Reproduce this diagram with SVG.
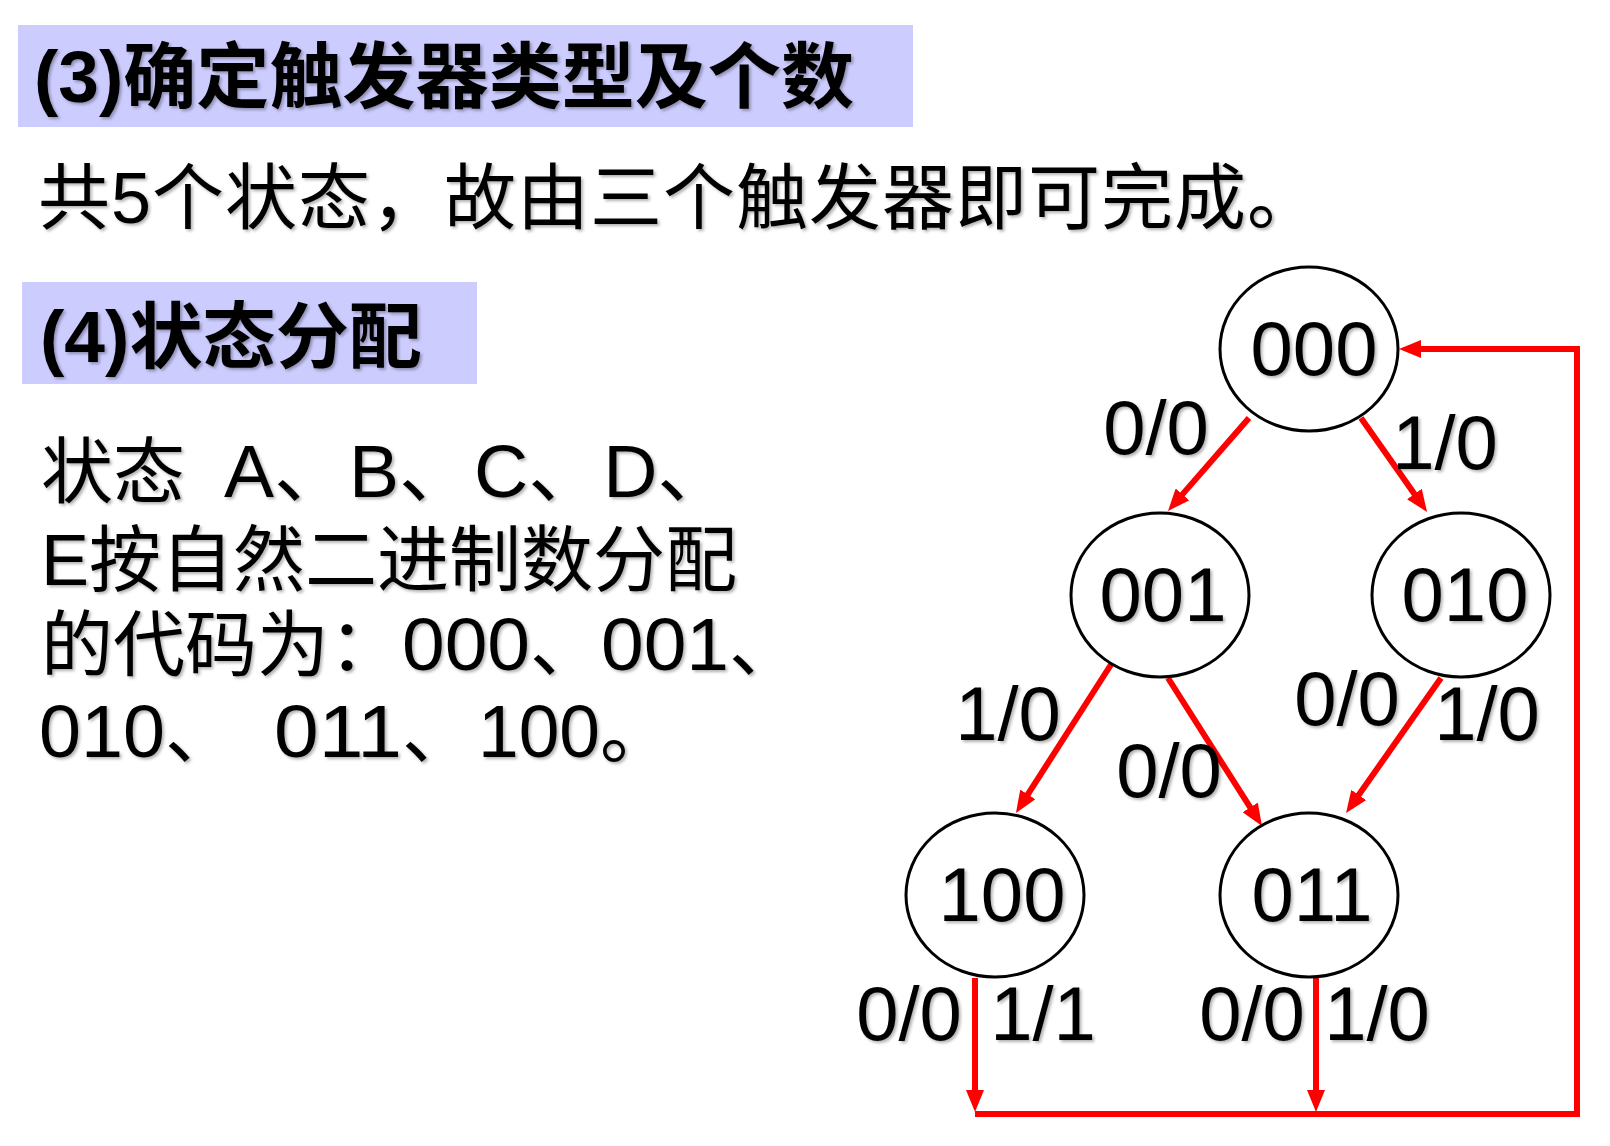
<svg xmlns="http://www.w3.org/2000/svg" width="1610" height="1146" viewBox="0 0 1610 1146">
<style>
.t{font-family:"Liberation Sans","Noto Sans CJK SC",sans-serif;fill:#000;filter:url(#sh)}
.b{font-weight:bold}
.lab{font-size:76px;text-anchor:middle}
.hdr{fill:#CCCCFF}
.node ellipse{fill:#fff;stroke:#000;stroke-width:3}
.edge{fill:none;stroke:#FF0000;stroke-width:6}
</style>
<defs>
<filter id="sh" x="-10%" y="-10%" width="130%" height="140%">
<feDropShadow dx="2" dy="2" stdDeviation="1.5" flood-color="#000" flood-opacity="0.3"/>
</filter>
<marker id="ah" viewBox="0 0 22 18" refX="8" refY="9" markerWidth="22" markerHeight="18" markerUnits="userSpaceOnUse" orient="auto">
<path d="M0,0 L22,9 L0,18 z" fill="#FF0000"/>
</marker>
</defs>

<g id="heading3">
<rect class="hdr" x="18" y="25" width="895" height="102"/>
<text class="t b" x="34" y="102" font-size="72" textLength="820" lengthAdjust="spacingAndGlyphs">(3)确定触发器类型及个数</text>
</g>
<g id="line2">
<text class="t" x="38" y="223" font-size="72" textLength="1281" lengthAdjust="spacing">共5个状态，故由三个触发器即可完成。</text>
</g>
<g id="heading4">
<rect class="hdr" x="22" y="282" width="455" height="102"/>
<text class="t b" x="40" y="362" font-size="72" textLength="382" lengthAdjust="spacingAndGlyphs">(4)状态分配</text>
</g>
<g id="paragraph">
<text class="t" font-size="72">
<tspan x="41" y="497">状态</tspan><tspan x="224" y="497" font-size="75">A、B、C、D、</tspan>
<tspan x="41" y="585">E按自然二进制数分配</tspan>
<tspan x="41" y="670">的代码为：</tspan><tspan x="402" y="670" font-size="74" textLength="128" lengthAdjust="spacingAndGlyphs">000</tspan><tspan x="530" y="670">、</tspan><tspan x="601" y="670" font-size="74" textLength="128" lengthAdjust="spacingAndGlyphs">001</tspan><tspan x="729" y="670">、</tspan>
<tspan x="39" y="757" font-size="74" textLength="126" lengthAdjust="spacingAndGlyphs">010</tspan><tspan x="165" y="757">、</tspan><tspan x="274" y="757" font-size="74" textLength="128" lengthAdjust="spacingAndGlyphs">011</tspan><tspan x="402" y="757">、</tspan><tspan x="478" y="757" font-size="74" textLength="122" lengthAdjust="spacingAndGlyphs">100</tspan><tspan x="600" y="757">。</tspan>
</text>
</g>

<g id="connectors">
<line class="edge" x1="1249" y1="418" x2="1177.2" y2="500.4" marker-end="url(#ah)"/>
<line class="edge" x1="1361" y1="418" x2="1419" y2="500.5" marker-end="url(#ah)"/>
<line class="edge" x1="1112" y1="663" x2="1023.5" y2="801.2" marker-end="url(#ah)"/>
<line class="edge" x1="1168" y1="678" x2="1254.5" y2="814.2" marker-end="url(#ah)"/>
<line class="edge" x1="1441" y1="678" x2="1354.1" y2="801.5" marker-end="url(#ah)"/>
<line class="edge" x1="975" y1="978" x2="975" y2="1098" marker-end="url(#ah)"/>
<line class="edge" x1="1316" y1="978" x2="1316" y2="1098" marker-end="url(#ah)"/>
<polyline class="edge" points="975,1114 1577,1114 1577,349 1413,349" marker-end="url(#ah)"/>
<text class="t lab" x="1156" y="454">0/0</text>
<text class="t lab" x="1445" y="469">1/0</text>
<text class="t lab" x="1008" y="740">1/0</text>
<text class="t lab" x="1169" y="797">0/0</text>
<text class="t lab" x="1347" y="725">0/0</text>
<text class="t lab" x="1487" y="740">1/0</text>
<text class="t lab" x="909" y="1040">0/0</text>
<text class="t lab" x="1043" y="1040">1/1</text>
<text class="t lab" x="1252" y="1040">0/0</text>
<text class="t lab" x="1377" y="1040">1/0</text>
</g>

<g id="n000" class="node">
<ellipse cx="1309" cy="349" rx="89" ry="82"/>
<text class="t lab" x="1314" y="375">000</text>
</g>
<g id="n001" class="node">
<ellipse cx="1160" cy="595" rx="89" ry="82"/>
<text class="t lab" x="1163" y="621">001</text>
</g>
<g id="n010" class="node">
<ellipse cx="1461" cy="595" rx="89" ry="82"/>
<text class="t lab" x="1465" y="621">010</text>
</g>
<g id="n100" class="node">
<ellipse cx="995" cy="895" rx="89" ry="82"/>
<text class="t lab" x="1002" y="921">100</text>
</g>
<g id="n011" class="node">
<ellipse cx="1309" cy="895" rx="89" ry="82"/>
<text class="t lab" x="1312" y="921">011</text>
</g>
</svg>
